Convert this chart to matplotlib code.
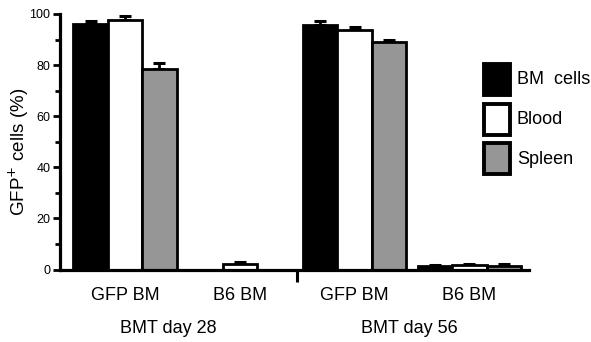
import matplotlib
matplotlib.use("Agg")
import matplotlib.pyplot as plt
import matplotlib.transforms as mtransforms
from matplotlib.patches import Rectangle
import numpy as np

plt.rcParams['font.family'] = ['Liberation Sans', 'DejaVu Sans']

groups = ["GFP BM", "B6 BM", "GFP BM", "B6 BM"]
periods = ["BMT day 28", "BMT day 56"]
series = ["BM  cells", "Blood", "Spleen"]
colors = ["#000000", "#ffffff", "#969696"]

bm_cells = [96.0, 0.0, 95.8, 1.3]
bm_err = [1.2, 0.0, 1.3, 0.6]
blood = [97.5, 2.3, 93.8, 1.6]
blood_err = [1.6, 0.8, 1.2, 0.7]
spleen = [78.3, 0.0, 89.2, 1.4]
spleen_err = [2.6, 0.0, 0.6, 0.6]

values = [bm_cells, blood, spleen]
errors = [bm_err, blood_err, spleen_err]

W, H = 591, 342
fig = plt.figure(figsize=(W / 100, H / 100), dpi=100)
ax = fig.add_axes([60 / W, (H - 269.5) / H, (529 - 60) / W, (269.5 - 14) / H])

x = np.arange(len(groups))
bw = 0.3
offsets = [-bw, 0, bw]
for vals, errs, c, off in zip(values, errors, colors, offsets):
    errs_arr = np.array(errs)
    ax.bar(x + off, vals, width=bw, color=c, edgecolor="black", linewidth=2.0,
           zorder=2)
    mask = errs_arr > 0
    ax.errorbar((x + off)[mask], np.array(vals)[mask],
                yerr=[np.zeros(mask.sum()), errs_arr[mask]],
                fmt="none", ecolor="black", elinewidth=2, capsize=4.5,
                capthick=2.2, zorder=1)

ax.set_xlim(-0.566, 3.52)
ax.set_ylim(0, 100)
ax.set_yticks([0, 20, 40, 60, 80, 100])
ax.set_yticks([10, 30, 50, 70, 90], minor=True)
ax.tick_params(axis="y", which="major", direction="out", length=5, width=2,
               labelsize=9, pad=2)
ax.tick_params(axis="y", which="minor", direction="out", length=3.5, width=2)
ax.set_xticks([])
for s in ["top", "right"]:
    ax.spines[s].set_visible(False)
for s in ["left", "bottom"]:
    ax.spines[s].set_linewidth(2.3)

ax.set_ylabel("GFP$^{+}$ cells (%)", fontsize=13.5)
ax.yaxis.set_label_coords(-0.062, 0.46)

trans = mtransforms.blended_transform_factory(ax.transData, ax.transAxes)
for xi, g in zip(x, groups):
    ax.text(xi, -0.10, g, transform=trans, ha="center", va="center",
            fontsize=13)
period_x = [0.375, 2.48]
for px, p in zip(period_x, periods):
    ax.text(px, -0.23, p, transform=trans, ha="center", va="center",
            fontsize=13)
ax.plot([1.5, 1.5], [0, -0.048], transform=trans, color="black", lw=2.2,
        clip_on=False, solid_capstyle="butt")

# legend
for i, (lab, c) in enumerate(zip(series, colors)):
    y0 = 64 + i * 39.5
    fig.add_artist(Rectangle((484 / W, (H - y0 - 31) / H), 26 / W, 31 / H,
                             transform=fig.transFigure, facecolor=c,
                             edgecolor="black", linewidth=2.8))
    fig.text(517 / W, (H - y0 - 16) / H, lab, fontsize=13, ha="left",
             va="center")

fig.savefig("out.png", dpi=100)
